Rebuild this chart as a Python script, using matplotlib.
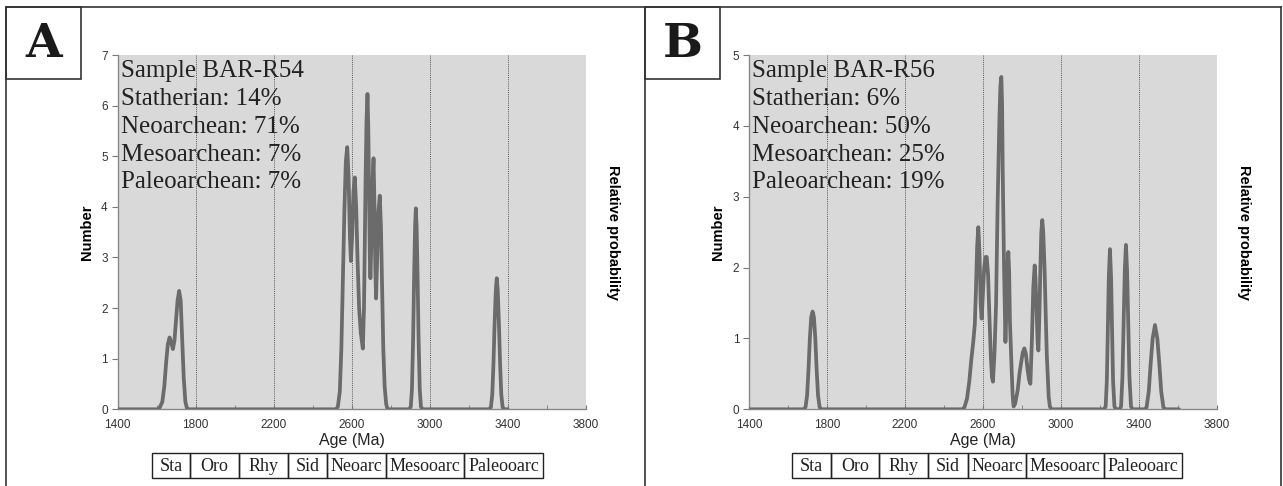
import matplotlib.pyplot as plt
from matplotlib.patches import Rectangle
from matplotlib.lines import Line2D

W, H = 1283, 486

# ---------------- data ----------------
period_bounds = [1800, 2200, 2600, 3000, 3400]
periods = ['Sta', 'Oro', 'Rhy', 'Sid', 'Neoarc', 'Mesooarc', 'Paleooarc']

stats_a = ['Sample BAR-R54', 'Statherian: 14%', 'Neoarchean: 71%',
           'Mesoarchean: 7%', 'Paleoarchean: 7%']
stats_b = ['Sample BAR-R56', 'Statherian: 6%', 'Neoarchean: 50%',
           'Mesoarchean: 25%', 'Paleoarchean: 19%']

# probability curve of sample BAR-R54 (age Ma, number)
curve_a = [
    (1400, 0), (1605, 0), (1615, 0.02), (1630, 0.15), (1640, 0.45), (1650, 0.95),
    (1658, 1.28), (1667, 1.42), (1675, 1.33), (1684, 1.19), (1692, 1.35),
    (1700, 1.75), (1708, 2.15), (1716, 2.34), (1724, 2.15), (1732, 1.35),
    (1740, 0.6), (1748, 0.15), (1756, 0.02), (1765, 0),
    (2520, 0), (2530, 0.05), (2540, 0.35), (2548, 1.2), (2556, 2.6), (2564, 4.0),
    (2571, 4.9), (2578, 5.18), (2585, 4.6), (2592, 3.4), (2597, 2.93),
    (2603, 3.4), (2610, 4.3), (2617, 4.58), (2624, 4.0), (2631, 2.95),
    (2639, 2.0), (2648, 1.5), (2658, 1.2), (2664, 2.0), (2668, 3.2),
    (2672, 4.5), (2677, 5.7), (2682, 6.23), (2686, 5.6), (2690, 4.3),
    (2694, 3.0), (2697, 2.59), (2702, 3.3), (2707, 4.4), (2713, 4.96),
    (2718, 4.0), (2722, 2.8), (2726, 2.19), (2731, 2.9), (2738, 3.9),
    (2745, 4.22), (2751, 3.6), (2757, 2.4), (2763, 1.2), (2770, 0.45),
    (2778, 0.1), (2785, 0),
    (2895, 0), (2904, 0.05), (2910, 0.4), (2916, 1.4), (2921, 2.6), (2926, 3.6),
    (2930, 3.97), (2934, 3.6), (2939, 2.6), (2944, 1.4), (2950, 0.4),
    (2956, 0.05), (2965, 0),
    (3305, 0), (3315, 0.04), (3322, 0.3), (3328, 0.9), (3334, 1.7), (3340, 2.35),
    (3345, 2.59), (3350, 2.35), (3356, 1.7), (3362, 0.9), (3368, 0.3),
    (3375, 0.04), (3385, 0), (3400, 0),
]

# probability curve of sample BAR-R56 (age Ma, number)
curve_b = [
    (1400, 0), (1680, 0), (1690, 0.03), (1698, 0.2), (1705, 0.55), (1712, 1.0),
    (1719, 1.3), (1726, 1.38), (1733, 1.3), (1740, 1.0), (1747, 0.55),
    (1754, 0.2), (1762, 0.03), (1772, 0),
    (2495, 0), (2505, 0.03), (2518, 0.15), (2530, 0.4), (2540, 0.7),
    (2550, 0.95), (2558, 1.2), (2564, 1.7), (2570, 2.3), (2576, 2.57),
    (2582, 2.2), (2588, 1.5), (2593, 1.28), (2599, 1.6), (2606, 2.0),
    (2613, 2.15), (2619, 2.15), (2626, 1.9), (2633, 1.3), (2640, 0.75),
    (2646, 0.45), (2651, 0.39), (2659, 0.8), (2667, 1.49), (2675, 2.9),
    (2684, 4.08), (2689, 4.55), (2694, 4.69), (2698, 4.3), (2701, 3.38),
    (2708, 2.0), (2715, 0.95), (2720, 1.4), (2725, 2.0), (2730, 2.22),
    (2734, 1.95), (2738, 1.25), (2747, 0.55), (2752, 0.2), (2757, 0.04),
    (2765, 0.08), (2778, 0.27), (2787, 0.5), (2795, 0.65), (2804, 0.8),
    (2812, 0.86), (2820, 0.78), (2829, 0.55), (2836, 0.42), (2843, 0.36),
    (2851, 1.0), (2858, 1.72), (2865, 2.03), (2869, 1.85), (2874, 1.49),
    (2880, 0.95), (2884, 0.83), (2889, 1.3), (2894, 1.96), (2899, 2.5),
    (2904, 2.67), (2909, 2.5), (2916, 1.96), (2922, 1.3), (2927, 0.78),
    (2937, 0.17), (2943, 0.04), (2950, 0),
    (3220, 0), (3229, 0.04), (3235, 0.4), (3240, 1.1), (3245, 1.85), (3251, 2.26),
    (3257, 1.85), (3262, 1.1), (3267, 0.4), (3274, 0.04), (3283, 0),
    (3300, 0), (3308, 0.04), (3315, 0.45), (3321, 1.2), (3327, 1.95), (3333, 2.32),
    (3339, 1.95), (3345, 1.2), (3351, 0.45), (3359, 0.04), (3368, 0),
    (3430, 0), (3439, 0.03), (3450, 0.25), (3460, 0.65), (3470, 1.0),
    (3482, 1.19), (3494, 1.0), (3504, 0.65), (3514, 0.25), (3525, 0.03),
    (3535, 0), (3605, 0),
]

SANS = 'Liberation Sans'
SERIF = 'Liberation Serif'


def fx(px):
    return px / W


def fy(py):
    return 1 - py / H


def draw_panel(fig, ax_left, curve, ymax, letter, box_left, stats, table_edges):
    ax = fig.add_axes([fx(ax_left), fy(409.3), 468 / W, 354.3 / H])
    ax.set_facecolor('#d9d9d9')
    for b in period_bounds:
        ax.axvline(b, color='#555555', lw=0.7, ls=(0, (1, 1.2)), zorder=1)
    ages, vals = zip(*curve)
    ax.plot(ages, vals, color='#6b6b6b', lw=2.7, solid_joinstyle='round',
            solid_capstyle='round', zorder=3)
    ax.set_xlim(1400, 3800)
    ax.set_ylim(0, ymax)
    ax.set_xticks(range(1400, 3801, 400))
    ax.set_xticks(range(1600, 3800, 400), minor=True)
    ax.set_yticks(range(0, ymax + 1))
    ax.tick_params(axis='x', which='both', direction='in', length=3,
                   color='#777777', labelsize=8.5, labelcolor='#333333', pad=7)
    ax.tick_params(axis='y', direction='out', length=4, color='#777777',
                   labelsize=8.5, labelcolor='#333333', pad=3)
    for lab in ax.get_xticklabels() + ax.get_yticklabels():
        lab.set_fontfamily(SANS)
    for side in ['top', 'right']:
        ax.spines[side].set_visible(False)
    for side in ['left', 'bottom']:
        ax.spines[side].set_color('#888888')
        ax.spines[side].set_linewidth(1.0)

    # axis titles
    fig.text(fx(ax_left - 31), fy(232), 'Number', rotation=90, ha='center',
             va='center', fontsize=10.5, fontweight='bold', family=SANS)
    fig.text(fx(ax_left + 234), fy(440), 'Age (Ma)', ha='center', va='center',
             fontsize=11.5, family=SANS, color='#222222')
    fig.text(fx(ax_left + 495), fy(232), 'Relative probability', rotation=-90,
             ha='center', va='center', fontsize=10.5, fontweight='bold', family=SANS)

    # sample summary
    for i, line in enumerate(stats):
        fig.text(fx(ax_left + 3.5), fy(77.3 + i * 27.75), line, ha='left',
                 va='baseline', fontsize=18, family=SERIF, color='#222222')

    # panel letter box
    fig.patches.append(Rectangle((fx(box_left), fy(79)), 75 / W, 71.5 / H,
                                 transform=fig.transFigure, fill=True,
                                 facecolor='white', edgecolor='#333333', lw=1.2))
    fig.text(fx(box_left + 38), fy(44), letter, ha='center', va='center',
             fontsize=34, fontweight='bold', family='DejaVu Serif', color='#1a1a1a')

    # geological period strip
    for name, x0, x1 in zip(periods, table_edges[:-1], table_edges[1:]):
        fig.patches.append(Rectangle((fx(x0), fy(478.3)), (x1 - x0) / W, 25 / H,
                                     transform=fig.transFigure, fill=False,
                                     edgecolor='#222222', lw=1.0))
        fig.text(fx((x0 + x1) / 2), fy(466), name, ha='center', va='center',
                 fontsize=13, family=SERIF, color='#222222')


fig = plt.figure(figsize=(W / 100, H / 100), dpi=100)
fig.patch.set_facecolor('white')

# outer frames
fig.lines.append(Line2D([fx(6), fx(1281)], [fy(7.5), fy(7.5)],
                        transform=fig.transFigure, color='#333333', lw=1.2))
for xv in [6, 645, 1281]:
    fig.lines.append(Line2D([fx(xv), fx(xv)], [fy(7.5), 0],
                            transform=fig.transFigure, color='#333333', lw=1.2))

draw_panel(fig, 117.5, curve_a, 7, 'A', 6, stats_a,
           [151.7, 190, 239, 288.3, 327.3, 386, 464.3, 542.7])
draw_panel(fig, 749, curve_b, 5, 'B', 645, stats_b,
           [791.6, 830.6, 878.9, 928.1, 967.9, 1026.1, 1104.3, 1182.2])

fig.savefig('out.png', dpi=100)
